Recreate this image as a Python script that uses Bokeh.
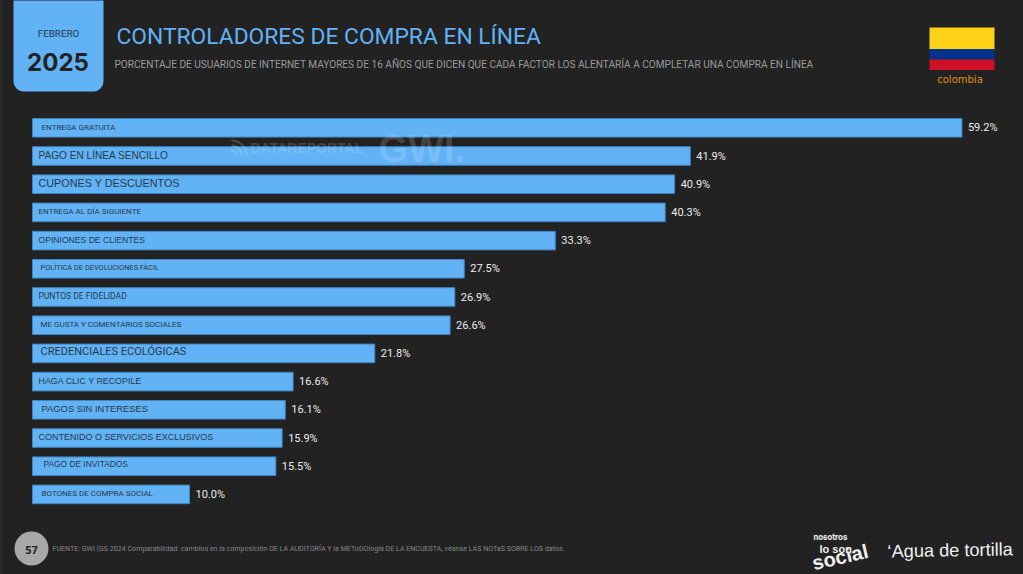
from bokeh.core.properties import value as fixed
from bokeh.embed import file_html
from bokeh.resources import INLINE
from bokeh.models import BoxAnnotation, Label, Range1d
from bokeh.plotting import figure
import numpy as np

# ---- data ----
categories = ["ENTREGA GRATUITA", "PAGO EN LÍNEA SENCILLO", "CUPONES Y DESCUENTOS", "ENTREGA AL DÍA SIGUIENTE",
              "OPINIONES DE CLIENTES", "POLÍTICA DE DEVOLUCIONES FÁCIL", "PUNTOS DE FIDELIDAD",
              "ME GUSTA Y COMENTARIOS SOCIALES", "CREDENCIALES ECOLÓGICAS", "HAGA CLIC Y RECOPILE",
              "PAGOS SIN INTERESES", "CONTENIDO O SERVICIOS EXCLUSIVOS", "PAGO DE INVITADOS",
              "BOTONES DE COMPRA SOCIAL"]
values = [59.2, 41.9, 40.9, 40.3, 33.3, 27.5, 26.9, 26.6, 21.8, 16.6, 16.1, 15.9, 15.5, 10.0]

# ---- per-label styling (the original's labels are individually set) ----
NARROW, SANS = "Roboto", "Liberation Sans"
label_font = [NARROW, SANS, SANS, NARROW, SANS, NARROW, NARROW, NARROW, NARROW, SANS, SANS, SANS, SANS, NARROW]
label_size = [8, 10.1, 10.8, 8, 8.6, 7.4, 8.5, 8, 11, 8.9, 9.4, 9, 8.4, 8]
label_dx = [9, 6, 6, 6, 6, 8, 6, 8, 8, 6, 9, 6, 11, 9]
label_dy = [-0.5, -1, -1, -1, -1, -1, -1, -1, -2, -1, -1, -1, -2, -1]

W, H = 1023, 574
PX_PER_UNIT, BAR_X0 = 15.7, 32
ROW_Y0, ROW_STEP = 127.3, 28.2
BG, BLUE = "#222222", "#62b2f6"

p = figure(width=W, height=H, output_backend="svg", toolbar_location=None, min_border=0,
           x_axis_type=None, y_axis_type=None, outline_line_color=None,
           background_fill_color=BG, border_fill_color=BG,
           x_range=Range1d(-BAR_X0 / PX_PER_UNIT, (W - BAR_X0) / PX_PER_UNIT),
           y_range=Range1d((H - ROW_Y0) / ROW_STEP, -ROW_Y0 / ROW_STEP))
p.grid.visible = False

def box(l, t, r, b, color, radius=0, alpha=1.0):
    p.add_layout(BoxAnnotation(left=l, right=r, top=H - t, bottom=H - b, left_units="screen", right_units="screen",
                               top_units="screen", bottom_units="screen", fill_color=color, fill_alpha=alpha,
                               line_color=None, border_radius=radius, level="underlay"))

def label(x, y, text, size, color, font=NARROW, style="normal", align="left", angle=0, alpha=1.0):
    p.add_layout(Label(x=x, y=H - y, x_units="screen", y_units="screen", text=text, text_font=font,
                       text_font_size=f"{size}px", text_font_style=style, text_color=color, text_align=align,
                       text_baseline="middle", angle=angle, angle_units="deg", text_alpha=alpha))

rows = np.arange(len(categories))
p.hbar(y=rows, left=0, right=values, height=0.66, fill_color=BLUE, line_color="#3f84c0", line_width=1)

for i, (cat, val) in enumerate(zip(categories, values)):
    p.text(x=[0], y=[i], text=[cat], text_font=fixed(label_font[i]), text_font_size=f"{label_size[i]}px",
           text_color="#263a4e", text_baseline="middle", x_offset=label_dx[i], y_offset=label_dy[i])
    p.text(x=[val], y=[i], text=[f"{val:.1f}%"], text_font=fixed(NARROW), text_font_size="11px",
           text_color="#ececec", text_baseline="middle", x_offset=6, y_offset=0)

# left page edge
box(0, 0, 1, H, "#3c3c3c")
# date badge
box(13, -20, 103, 91, BLUE, radius=10)
label(58, 33, "FEBRERO", 9.8, "#24384c", align="center")
label(57.5, 61, "2025", 24, "#222222", font="Inter", style="bold", align="center")
# titles
label(116, 36, "CONTROLADORES DE COMPRA EN LÍNEA", 22.8, BLUE)
label(114, 64, "PORCENTAJE DE USUARIOS DE INTERNET MAYORES DE 16 AÑOS QUE DICEN QUE CADA FACTOR LOS ALENTARÍA A COMPLETAR UNA COMPRA EN LÍNEA", 10.1, "#9a9a9a")
# flag
box(929, 27, 994, 48.5, "#fdd116")
box(929, 48.5, 994, 59, "#00338d")
box(929, 59, 994, 69.5, "#ce1126")
label(959.5, 79, "colombia", 10, "#e0900f", font="DejaVu Sans", align="center")
# watermark
label(250, 147, "DATAREPORTAL", 14, "#ffffff", font="Liberation Sans", style="bold", alpha=0.16)
label(378, 148, "GWI.", 38, "#ffffff", font="Liberation Sans", style="bold", alpha=0.16)
for r in (5, 10, 15):
    p.arc(x=(231 - BAR_X0) / PX_PER_UNIT, y=(155 - ROW_Y0) / ROW_STEP, radius=r, radius_units="screen",
          start_angle=0, end_angle=np.pi / 2, direction="anticlock", line_color="#ffffff",
          line_alpha=0.16, line_width=2.5)
# footer
box(14, 531, 48, 565, "#a8a8a8", radius=17)
label(31, 549, "57", 11, "#222222", font="Open Sans", style="bold", align="center")
label(52, 548, "FUENTE: GWI (GS 2024 Comparabilidad: cambios en la composición DE LA AUDITORÍA Y la METoDOlogía DE LA ENCUESTA, véanse LAS NOTaS SOBRE LOS datos.", 7.1, "#858585")
label(813, 536, "nosotros", 8.5, "#f0f0f0", style="bold")
label(819, 548, "lo son.", 11, "#f0f0f0", font="Liberation Sans", style="bold")
label(812, 563, "social", 20, "#f0f0f0", font="Liberation Sans", style="bold", angle=13)
label(887, 551, "‘Agua de tortilla", 18.2, "#f0f0f0", font="Liberation Sans", angle=1)

html = file_html(p, INLINE)
html = html.replace("<head>", "<head><style>html,body{margin:0;padding:0;background:#222222}</style>", 1)
open("out.html", "w").write(html)
